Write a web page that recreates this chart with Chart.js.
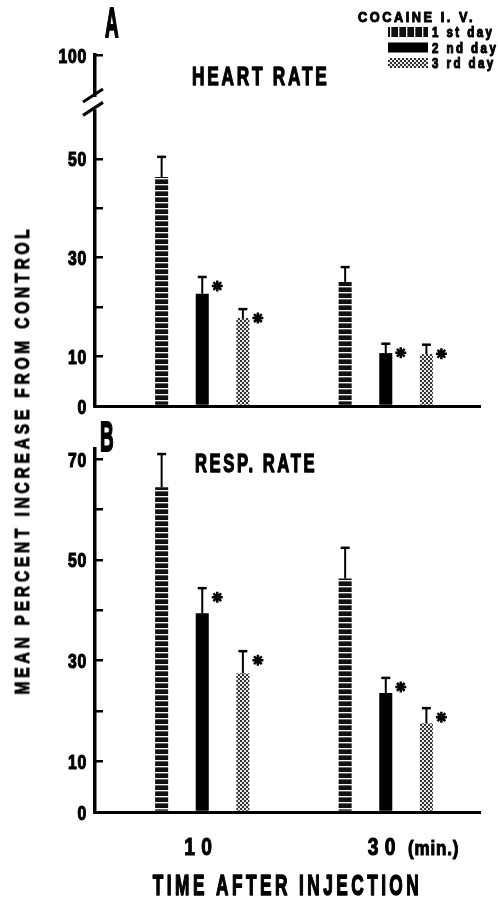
<!DOCTYPE html>
<html>
<head>
    <title>Cocaine i.v. - heart and resp. rate</title>
    <style>
        body { margin: 0; background: #fff; }
        #page { position: relative; width: 498px; height: 899px; overflow: hidden; }
        .panel { position: absolute; left: 0; }
        #yTitle {
            position: absolute; left: 22px; top: 460px;
            transform: translate(-50%, -50%) rotate(-90deg) scaleX(0.745);
            white-space: nowrap; line-height: 1;
            font: bold 21px "Liberation Sans", Arial, sans-serif;
            letter-spacing: 5px; color: #000;
            -webkit-text-stroke: 0.9px #000;
        }
    </style>
</head>
<body>
<div id="page">
    <div class="panel" style="top:0"><canvas id="chartA" width="498" height="420"></canvas></div>
    <div class="panel" style="top:420px"><canvas id="chartB" width="498" height="479"></canvas></div>
    <div id="yTitle">MEAN PERCENT INCREASE FROM CONTROL</div>
</div>
<script src="https://cdn.jsdelivr.net/npm/chart.js"></script>
<script>
    // time after injection (min)
    const times = [10, 30];
    const dayLabels = ['1 st day', '2 nd day', '3 rd day'];

    // A - heart rate, mean % increase and SEM
    const heartDay1 = [46.3, 25.1];
    const heartDay2 = [22.7, 10.7];
    const heartDay3 = [17.8, 10.5];
    const heartSem1 = [4.1, 3.0];
    const heartSem2 = [3.4, 1.9];
    const heartSem3 = [1.8, 1.9];

    // B - resp. rate
    const respDay1 = [64.4, 46.3];
    const respDay2 = [39.4, 23.6];
    const respDay3 = [27.5, 17.6];
    const respSem1 = [6.6, 6.1];
    const respSem2 = [5.0, 3.0];
    const respSem3 = [4.4, 3.0];

    // significant vs 1st day
    const signif = [[false, false], [true, true], [true, true]];

    const yTicksA = [0, 10, 20, 30, 40, 50, 71];
    const yTicksB = [0, 10, 20, 30, 40, 50, 60, 70];

    const FONT = '"Liberation Sans", Arial, sans-serif';

    function yLabel(v) {
        if (v === 71) return '100';   // top of broken axis
        return (v === 0 || v % 20 === 10) ? String(v) : '';
    }

    function makePattern(w, h, draw) {
        const c = document.createElement('canvas');
        c.width = w; c.height = h;
        const g = c.getContext('2d');
        draw(g);
        return document.createElement('canvas').getContext('2d').createPattern(c, 'repeat');
    }

    // 1st day: black with thin white bands
    const stripes = makePattern(4, 6, g => {
        g.fillStyle = '#111'; g.fillRect(0, 0, 4, 6);
        g.fillStyle = '#f4f4f4'; g.fillRect(0, 4, 4, 1);
        g.fillStyle = '#666'; g.fillRect(0, 5, 4, 1);
    });
    const stripesV = makePattern(8, 4, g => {
        g.fillStyle = '#111'; g.fillRect(0, 0, 8, 4);
        g.fillStyle = '#f4f4f4'; g.fillRect(6, 0, 1, 4);
        g.fillStyle = '#666'; g.fillRect(7, 0, 1, 4);
    });
    // 3rd day: fine checker
    const checker = makePattern(4, 4, g => {
        g.fillStyle = '#e8e8e8'; g.fillRect(0, 0, 4, 4);
        g.fillStyle = '#333'; g.fillRect(0, 0, 2, 2); g.fillRect(2, 2, 2, 2);
    });
    const fills = [stripes, '#000', checker];
    const legendFills = [stripesV, '#000', checker];

    // condensed heavy text (the original lettering is very narrow)
    function drawText(ctx, str, x, y, size, sx, align, spacing) {
        ctx.save();
        ctx.font = 'bold ' + size + 'px ' + FONT;
        ctx.letterSpacing = (spacing || 0) + 'px';
        ctx.textAlign = align || 'left';
        ctx.textBaseline = 'alphabetic';
        ctx.fillStyle = '#000';
        ctx.strokeStyle = '#000';
        ctx.lineJoin = 'round';
        ctx.translate(x, y);
        ctx.scale(sx || 1, 1);
        ctx.lineWidth = 0.9 / (sx || 1);
        ctx.fillText(str, 0, 0);
        ctx.strokeText(str, 0, 0);
        ctx.restore();
    }

    function asterisk(ctx, x, y, r) {
        ctx.save();
        ctx.strokeStyle = '#000';
        ctx.lineWidth = 2.5;
        ctx.beginPath();
        for (let k = 0; k < 4; k++) {
            const a = k * Math.PI / 4;
            ctx.moveTo(x - r * Math.cos(a), y - r * Math.sin(a));
            ctx.lineTo(x + r * Math.cos(a), y + r * Math.sin(a));
        }
        ctx.stroke();
        ctx.restore();
    }

    // error bars + asterisks
    const errorBars = {
        id: 'errorBars',
        afterDatasetsDraw(chart, args, opts) {
            const ctx = chart.ctx;
            const y = chart.scales.y;
            chart.data.datasets.forEach((ds, di) => {
                const meta = chart.getDatasetMeta(di);
                meta.data.forEach((bar, i) => {
                    const top = y.getPixelForValue(ds.data[i].y + opts.sem[di][i]);
                    ctx.save();
                    ctx.strokeStyle = '#000';
                    ctx.lineWidth = 2;
                    ctx.beginPath();
                    ctx.moveTo(bar.x, bar.y);
                    ctx.lineTo(bar.x, top);
                    ctx.stroke();
                    ctx.lineWidth = 2.5;
                    ctx.beginPath();
                    ctx.moveTo(bar.x - 4.5, top);
                    ctx.lineTo(bar.x + 4.5, top);
                    ctx.stroke();
                    ctx.restore();
                    if (signif[di][i]) asterisk(ctx, bar.x + 15, top + 9, 5.5);
                });
            });
        }
    };

    // tick labels from the scales, drawn narrow
    const narrowTicks = {
        id: 'narrowTicks',
        afterDraw(chart, args, opts) {
            const ctx = chart.ctx;
            const y = chart.scales.y, x = chart.scales.x;
            y.ticks.forEach(t => {
                const s = yLabel(t.value);
                if (s) drawText(ctx, s, y.right - 8, y.getPixelForValue(t.value) + 7.5, 21, 0.75, 'right', 1);
            });
            if (opts.showX) {
                x.ticks.forEach(t => {
                    drawText(ctx, String(t.value), x.getPixelForValue(t.value) - 1, x.top + 43, 24, 0.8, 'center', 8);
                });
                const cx = (chart.chartArea.left + chart.chartArea.right) / 2;
                drawText(ctx, 'TIME AFTER INJECTION', cx, x.bottom - 4, 30, 0.575, 'center', 6);
            }
        }
    };

    const decorA = {
        id: 'decorA',
        afterDraw(chart) {
            const ctx = chart.ctx;
            const y = chart.scales.y;
            const left = chart.chartArea.left;
            // axis break
            const y1 = y.getPixelForValue(62.5), y2 = y.getPixelForValue(60);
            ctx.fillStyle = '#fff';
            ctx.fillRect(left - 4, y1, 14, y2 - y1);
            ctx.strokeStyle = '#000';
            ctx.lineWidth = 3;
            ctx.beginPath();
            ctx.moveTo(left - 12, y1 + 5); ctx.lineTo(left + 8, y1 - 8);
            ctx.moveTo(left - 12, y2 + 6); ctx.lineTo(left + 8, y2 - 7);
            ctx.stroke();

            drawText(ctx, 'A', 105, 37, 42, 0.45);
            drawText(ctx, 'HEART RATE', 192, 85, 25, 0.69, 'left', 4);

            // legend
            drawText(ctx, 'COCAINE I. V.', 358, 22, 15, 0.85, 'left', 3);
            legendFills.forEach((f, k) => {
                const cy = 32 + k * 15.5;
                ctx.fillStyle = f;
                ctx.fillRect(388, cy - 5, 40, 10);
                drawText(ctx, dayLabels[k], 432, cy + 5, 14, 0.82, 'left', 3);
            });
        }
    };

    const decorB = {
        id: 'decorB',
        afterDraw(chart) {
            const ctx = chart.ctx;
            drawText(ctx, 'B', 100, 31, 42, 0.45);
            drawText(ctx, 'RESP. RATE', 195, 52, 26, 0.64, 'left', 4);
            drawText(ctx, '(min.)', 408, 435, 20, 0.85, 'left', 1);
        }
    };

    function buildData(d1, d2, d3) {
        return {
            datasets: [d1, d2, d3].map((vals, k) => ({
                label: dayLabels[k],
                data: times.map((t, i) => ({ x: t, y: vals[i] })),
                backgroundColor: fills[k],
                borderWidth: 0,
                categoryPercentage: 0.664,
                barPercentage: 0.321
            }))
        };
    }

    function makeOptions(yTicks, yMax, padTop, xHeight, showX, sem) {
        return {
            responsive: false,
            animation: false,
            layout: { padding: { top: padTop, right: 18, left: 0, bottom: 0 } },
            plugins: {
                legend: { display: false },
                tooltip: { enabled: false },
                errorBars: { sem: sem },
                narrowTicks: { showX: showX }
            },
            scales: {
                x: {
                    type: 'linear',
                    min: -1.69,
                    max: 40.27,
                    offset: false,
                    afterBuildTicks: s => { s.ticks = times.map(v => ({ value: v })); },
                    afterFit: s => { s.height = xHeight; },
                    grid: { display: false, drawTicks: false },
                    border: { display: true, color: '#000', width: 3 },
                    ticks: { display: false }
                },
                y: {
                    min: 0,
                    max: yMax,
                    afterBuildTicks: s => { s.ticks = yTicks.map(v => ({ value: v })); },
                    afterFit: s => { s.width = 95; },
                    // negative length puts the tick marks inside, as in the original
                    grid: { drawOnChartArea: false, color: '#000', lineWidth: 2.5, tickLength: -8 },
                    border: { display: true, color: '#000', width: 3.5 },
                    ticks: { display: false, autoSkip: false, callback: yLabel }
                }
            }
        };
    }

    new Chart(document.getElementById('chartA'), {
        type: 'bar',
        data: buildData(heartDay1, heartDay2, heartDay3),
        options: makeOptions(yTicksA, 71, 55, 14, false, [heartSem1, heartSem2, heartSem3]),
        plugins: [errorBars, narrowTicks, decorA]
    });

    new Chart(document.getElementById('chartB'), {
        type: 'bar',
        data: buildData(respDay1, respDay2, respDay3),
        options: makeOptions(yTicksB, 72, 29, 87, true, [respSem1, respSem2, respSem3]),
        plugins: [errorBars, narrowTicks, decorB]
    });
</script>
</body>
</html>
